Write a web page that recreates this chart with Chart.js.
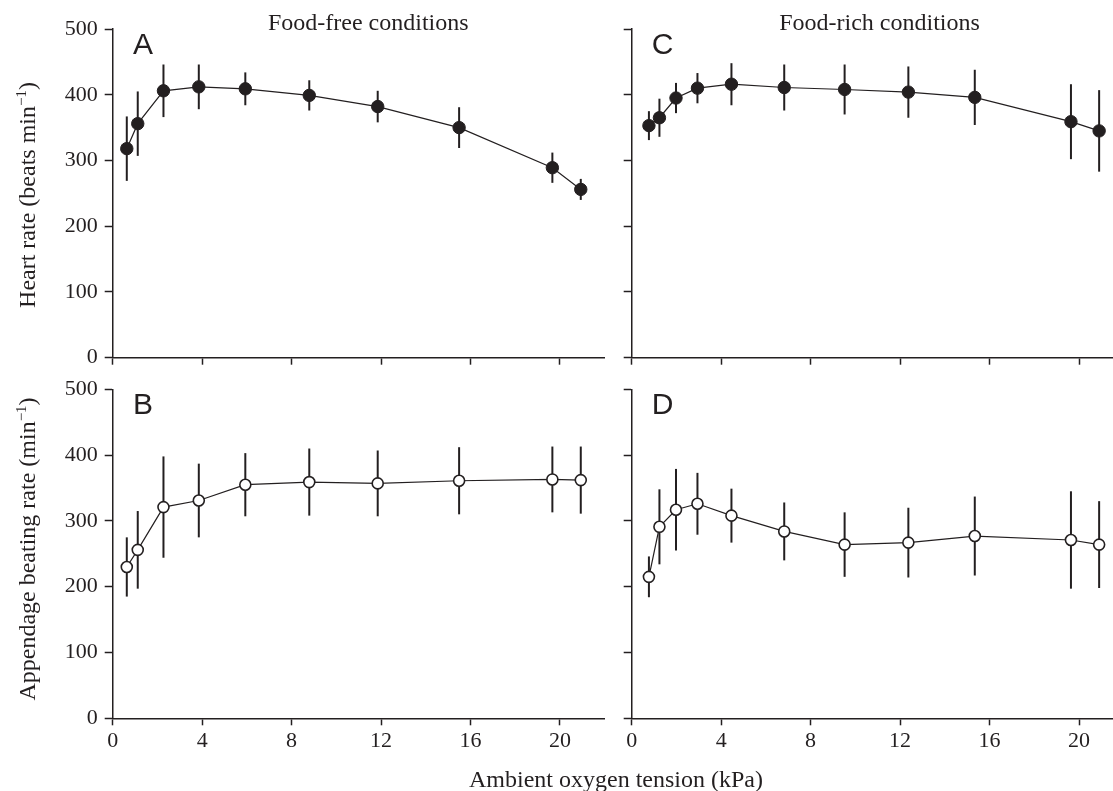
<!DOCTYPE html>
<html>
<head>
<meta charset="utf-8">
<script src="https://cdn.jsdelivr.net/npm/chart.js@4.4.1/dist/chart.umd.min.js"></script>
<style>
  html, body { margin: 0; padding: 0; background: #fff; }
  #wrap { position: relative; width: 1113px; height: 791px; overflow: hidden; }
  #wrap canvas { position: absolute; left: 0; top: 0; }
</style>
</head>
<body>
<div id="wrap">
  <canvas id="panelA" width="1140" height="791"></canvas>
  <canvas id="panelB" width="1140" height="791"></canvas>
  <canvas id="panelC" width="1140" height="791"></canvas>
  <canvas id="panelD" width="1140" height="791"></canvas>
</div>
<script>
// Ambient oxygen tension (kPa) of each measurement step
const foodFreeO2 = [0.63, 1.12, 2.27, 3.85, 5.93, 8.79, 11.85, 15.49, 19.66, 20.93];
const foodRichO2 = [0.77, 1.24, 1.98, 2.94, 4.46, 6.82, 9.52, 12.37, 15.34, 19.64, 20.9];

// Heart rate (beats per minute), mean and spread
const heartFreeMean = [318, 356, 406, 412, 409, 399, 382, 350, 289, 256];
const heartFreeErr  = [49, 49, 40, 34, 25, 23, 24, 31, 23, 16];
const heartRichMean = [353, 365, 395, 410, 416, 411, 408, 404, 396, 359, 345];
const heartRichErr  = [22, 29, 23, 23, 32, 35, 38, 39, 42, 57, 62];

// Appendage beating rate (per minute), mean and spread
const beatFreeMean = [230, 256, 321, 331, 355, 359, 357, 361, 363, 362];
const beatFreeErr  = [45, 59, 77, 56, 48, 51, 50, 51, 50, 51];
const beatRichMean = [215, 291, 317, 326, 308, 284, 264, 267, 277, 271, 264];
const beatRichErr  = [31, 57, 62, 47, 41, 44, 49, 53, 60, 74, 66];

// Axis ticks
const xTicks = [0, 4, 8, 12, 16, 20];
const yTicks = [0, 100, 200, 300, 400, 500];

const INK = '#231f20';
const SERIF = '"Liberation Serif", "Times New Roman", serif';
const SANS = '"Liberation Sans", Arial, sans-serif';
const W = 1140, H = 791;
const Y_W = 70, X_H = 40;

Chart.defaults.font.family = SERIF;
Chart.defaults.color = INK;

// vertical error bars, drawn under the markers
const errorBars = {
  id: 'errorBars',
  beforeDatasetsDraw(chart) {
    const { ctx, scales: { x, y } } = chart;
    const ds = chart.data.datasets[0];
    ctx.save();
    ctx.strokeStyle = INK;
    ctx.lineWidth = 2;
    ds.data.forEach((p, i) => {
      const e = ds.errors[i];
      const px = x.getPixelForValue(p.x);
      ctx.beginPath();
      ctx.moveTo(px, y.getPixelForValue(p.y - e));
      ctx.lineTo(px, y.getPixelForValue(p.y + e));
      ctx.stroke();
    });
    ctx.restore();
  }
};

// label with a superscript "−1" before the closing bracket, read bottom to top
function drawRotatedLabel(ctx, head, cx, cy) {
  const big = '24px ' + SERIF, small = '15px ' + SERIF;
  ctx.font = big; const w1 = ctx.measureText(head).width; const w3 = ctx.measureText(')').width;
  ctx.font = small; const w2 = ctx.measureText('\u22121').width;
  const total = w1 + w2 + w3;
  ctx.save();
  ctx.translate(cx, cy);
  ctx.rotate(-Math.PI / 2);
  ctx.textAlign = 'left';
  ctx.textBaseline = 'alphabetic';
  let x0 = -total / 2;
  ctx.font = big; ctx.fillText(head, x0, 0); x0 += w1;
  ctx.font = small; ctx.fillText('\u22121', x0, -9); x0 += w2;
  ctx.font = big; ctx.fillText(')', x0, 0);
  ctx.restore();
}

function panelText(o) {
  return {
    id: 'panelText',
    afterDraw(chart) {
      const { ctx, chartArea: a } = chart;
      ctx.save();
      ctx.fillStyle = INK;
      ctx.textBaseline = 'alphabetic';
      ctx.textAlign = 'left';
      ctx.font = '30px ' + SANS;
      ctx.fillText(o.letter, a.left + o.letterDx, a.top + 24.5);
      if (o.title) {
        ctx.font = '24px ' + SERIF;
        ctx.textAlign = 'center';
        ctx.fillText(o.title, o.titleX, 30);
      }
      if (o.yTitle) drawRotatedLabel(ctx, o.yTitle, 35, o.yTitleY);
      if (o.xTitle) {
        ctx.font = '24px ' + SERIF;
        ctx.textAlign = 'center';
        ctx.fillText(o.xTitle, 616, 786.5);
      }
      ctx.restore();
    }
  };
}

function panel(id, o) {
  const points = o.x.map((x, i) => ({ x, y: o.y[i] }));
  return new Chart(document.getElementById(id), {
    type: 'scatter',
    data: {
      datasets: [{
        data: points,
        errors: o.err,
        showLine: true,
        borderColor: INK,
        borderWidth: 1.2,
        tension: 0,
        pointStyle: 'circle',
        pointRadius: o.open ? 5.5 : 6.2,
        pointBackgroundColor: o.open ? '#ffffff' : INK,
        pointBorderColor: INK,
        pointBorderWidth: o.open ? 1.6 : 1,
        pointHoverRadius: o.open ? 5.5 : 6.2,
        clip: false
      }]
    },
    options: {
      responsive: false,
      animation: false,
      devicePixelRatio: 1,
      events: [],
      layout: {
        padding: {
          left: o.left - Y_W,
          top: o.top,
          right: W - o.right,
          bottom: H - o.bottom - X_H
        }
      },
      plugins: { legend: { display: false }, tooltip: { enabled: false } },
      scales: {
        x: {
          type: 'linear',
          min: 0,
          max: o.xMax,
          afterBuildTicks: s => { s.ticks = xTicks.map(v => ({ value: v })); },
          afterFit: s => { s.height = X_H; },
          grid: { drawOnChartArea: false, drawTicks: true, tickLength: 7, tickWidth: 1.5, tickColor: INK },
          border: { display: true, color: INK, width: 1.5 },
          ticks: { display: o.xLabels, padding: 3, color: INK, font: { family: SERIF, size: 22 } }
        },
        y: {
          type: 'linear',
          min: 0,
          max: 500,
          afterBuildTicks: s => { s.ticks = yTicks.map(v => ({ value: v })); },
          afterFit: s => { s.width = Y_W; },
          grid: { drawOnChartArea: false, drawTicks: true, tickLength: 8, tickWidth: 1.5, tickColor: INK },
          border: { display: true, color: INK, width: 1.5 },
          ticks: { display: o.yLabels, padding: 7, color: INK, font: { family: SERIF, size: 22 } }
        }
      }
    },
    plugins: [errorBars, panelText(o)]
  });
}

// A: heart rate, food-free
panel('panelA', {
  x: foodFreeO2, y: heartFreeMean, err: heartFreeErr, open: false,
  left: 112.7, right: 604.7, top: 29, bottom: 357.7, xMax: 22,
  xLabels: false, yLabels: true,
  letter: 'A', letterDx: 20.3, title: 'Food-free conditions', titleX: 368.3,
  yTitle: 'Heart rate (beats min', yTitleY: 195
});

// B: appendage beating, food-free
panel('panelB', {
  x: foodFreeO2, y: beatFreeMean, err: beatFreeErr, open: true,
  left: 112.7, right: 604.7, top: 389.3, bottom: 718.3, xMax: 22,
  xLabels: true, yLabels: true,
  letter: 'B', letterDx: 20.3,
  yTitle: 'Appendage beating rate (min', yTitleY: 549,
  xTitle: 'Ambient oxygen tension (kPa)'
});

// C: heart rate, food-rich
panel('panelC', {
  x: foodRichO2, y: heartRichMean, err: heartRichErr, open: false,
  left: 631.7, right: 1113, top: 29, bottom: 357.7, xMax: 21.52,
  xLabels: false, yLabels: false,
  letter: 'C', letterDx: 20, title: 'Food-rich conditions', titleX: 879.5
});

// D: appendage beating, food-rich
panel('panelD', {
  x: foodRichO2, y: beatRichMean, err: beatRichErr, open: true,
  left: 631.7, right: 1113, top: 389.3, bottom: 718.3, xMax: 21.52,
  xLabels: true, yLabels: false,
  letter: 'D', letterDx: 20
});
</script>
</body>
</html>
